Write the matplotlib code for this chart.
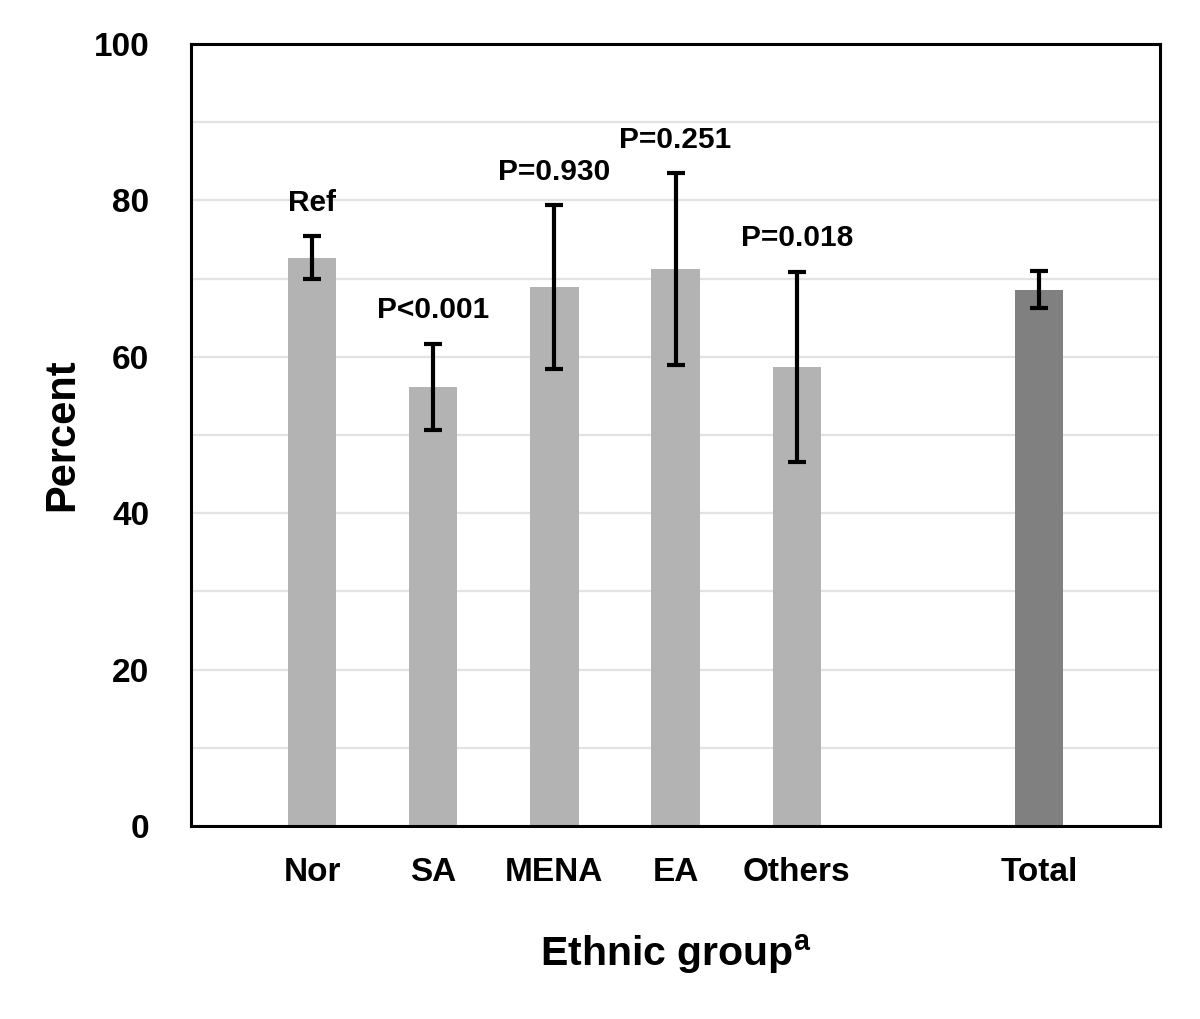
import numpy as np
import matplotlib
matplotlib.use("Agg")
import matplotlib.pyplot as plt

# values
groups = ["Nor", "SA", "MENA", "EA", "Others", "Total"]
positions = [0, 1, 2, 3, 4, 6]
percent = [72.6, 56.1, 68.9, 71.2, 58.7, 68.6]
ci_low = [69.9, 50.6, 58.5, 58.9, 46.6, 66.3]
ci_high = [75.4, 61.7, 79.4, 83.5, 70.9, 71.0]
p_labels = ["Ref", "P<0.001", "P=0.930", "P=0.251", "P=0.018", ""]
bar_colors = ["#b3b3b3"] * 5 + ["#808080"]

plt.rcParams["font.family"] = ["Liberation Sans", "DejaVu Sans"]
plt.rcParams["font.weight"] = "bold"
plt.rcParams["mathtext.fontset"] = "custom"
plt.rcParams["mathtext.bf"] = "Liberation Sans:bold"
plt.rcParams["mathtext.rm"] = "Liberation Sans:bold"

fig = plt.figure(figsize=(12, 10.19), dpi=100)
ax = fig.add_axes([0.159, 0.1894, 0.808, 0.7674])

percent = np.array(percent)
yerr = np.array([percent - np.array(ci_low), np.array(ci_high) - percent])

ax.bar(positions, percent, width=0.4, color=bar_colors, zorder=2)
ax.errorbar(positions, percent, yerr=yerr, fmt="none", ecolor="black",
            elinewidth=3, capsize=6.5, capthick=3, zorder=3)

for x, top, lab in zip(positions, ci_high, p_labels):
    if lab:
        ax.annotate(lab, (x, top), xytext=(0, 24), textcoords="offset points",
                    ha="center", va="center", fontsize=21.5, fontweight="bold")

ax.set_xlim(-1, 7)
ax.set_ylim(0, 100)
ax.set_yticks(range(0, 101, 20))
ax.set_yticks(range(0, 101, 10), minor=True)
ax.grid(axis="y", which="both", color="#e3e3e3", linewidth=1.6, zorder=0)
ax.set_axisbelow(True)
ax.set_xticks(positions)
ax.set_xticklabels(groups)
ax.tick_params(axis="both", which="both", length=0, labelsize=24)
ax.tick_params(axis="y", pad=30)
ax.tick_params(axis="x", pad=22)
for lbl in ax.get_xticklabels() + ax.get_yticklabels():
    lbl.set_fontweight("bold")
for s in ax.spines.values():
    s.set_linewidth(2.2)
    s.set_color("black")

ax.set_ylabel("Percent", fontsize=30, fontweight="bold", labelpad=8)
ax.set_xlabel(r"Ethnic group$^{\mathbf{a}}$", fontsize=29.5, fontweight="bold", labelpad=32)

fig.savefig("out.png", dpi=100)
